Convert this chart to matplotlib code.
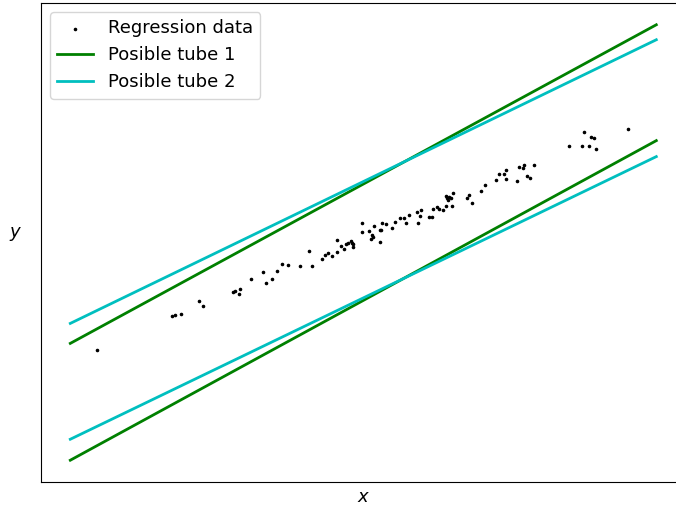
import matplotlib
matplotlib.use("Agg")
import matplotlib.pyplot as plt
import numpy as np

# Regression data (arbitrary units)
x_data = [27, 102, 105, 111, 129, 133, 163, 165, 170, 169,
          181, 193, 196, 202, 207, 212, 218, 230, 239, 242,
          252, 255, 258, 262, 267, 267, 271, 274, 276, 278,
          281, 282, 283, 283, 292, 292, 299, 302, 301, 303,
          304, 310, 310, 311, 312, 316, 322, 325, 330, 334,
          336, 339, 347, 348, 350,
          351, 359, 362, 363, 367, 369, 373, 376, 376, 377,
          378, 379, 381, 382, 383, 397, 399, 402, 411, 415,
          426, 429, 434, 436, 436, 447, 449, 453, 454, 457,
          460, 464, 499, 512, 514, 519, 521, 524, 526, 558]
y_data = [110, 144, 145, 146, 159, 154, 168, 169, 171, 166,
          181, 188, 177, 181, 189, 196, 195, 194, 209, 194,
          201, 205, 207, 204, 208, 221, 214, 211, 216, 217,
          220, 217, 216, 213, 238, 229, 230, 226, 222, 224,
          235, 219, 231, 231, 238, 237, 233, 239, 243, 243,
          238, 246, 249, 238, 245,
          251, 244, 244, 252, 254, 252, 251, 255, 265, 263,
          261, 264, 263, 255, 268, 263, 266, 258, 270, 276,
          281, 287, 287, 291, 282, 280, 294, 293, 296, 285,
          283, 296, 315, 315, 329, 315, 324, 323, 312, 332]

# Tube boundaries (endpoints)
tube_x = [0, 586]
tube1_upper = [117, 436]
tube1_lower = [0, 320]
tube2_upper = [137, 421]
tube2_lower = [21, 304]

fig = plt.figure(figsize=(6.76, 5.11), dpi=100)
ax = fig.add_axes([41/676, 29/511, 644.6/676, 479/511])

ax.scatter(x_data, y_data, s=2.5, c='k', label='Regression data', zorder=3)
ax.plot(tube_x, tube1_upper, color='g', lw=2, label='Posible tube 1')
ax.plot(tube_x, tube1_lower, color='g', lw=2)
ax.plot(tube_x, tube2_upper, color='c', lw=2, label='Posible tube 2')
ax.plot(tube_x, tube2_lower, color='c', lw=2)

ax.set_xticks([])
ax.set_yticks([])
ax.set_xlabel('$x$', fontsize=13)
ax.set_ylabel('$y$', fontsize=13, rotation=0, labelpad=18)
ax.legend(loc='upper left', fontsize=13)

fig.savefig('out.png', dpi=100)
